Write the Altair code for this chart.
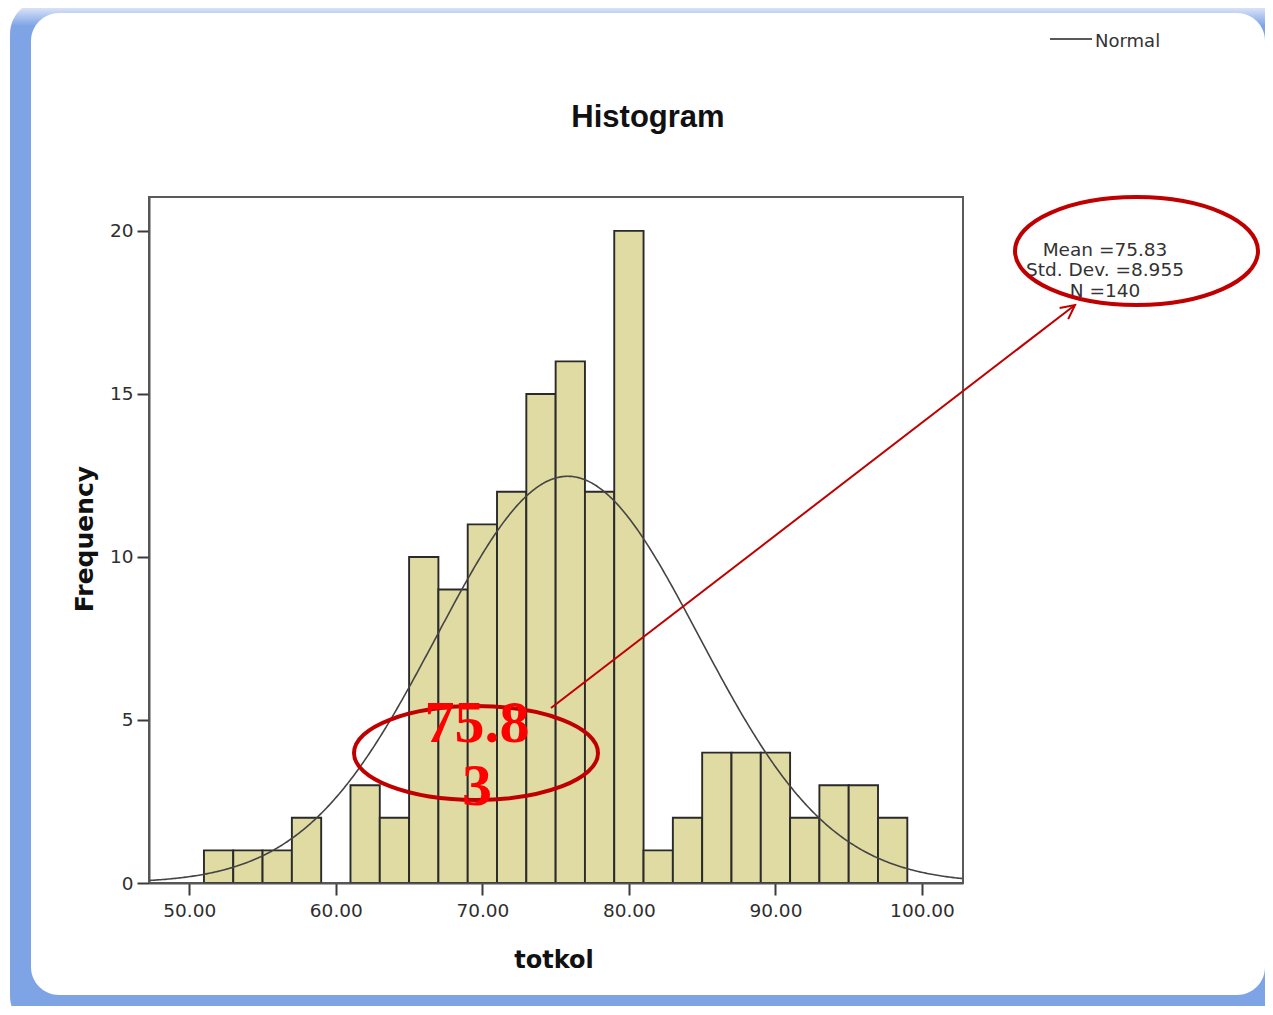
import altair as alt
import pandas as pd

# ---------------- data ----------------
bin_starts = [51, 53, 55, 57, 59, 61, 63, 65, 67, 69, 71, 73, 75, 77, 79, 81, 83, 85, 87, 89, 91, 93, 95, 97]
bin_width = 2
counts = [1, 1, 1, 2, 0, 3, 2, 10, 9, 11, 12, 15, 16, 12, 20, 1, 2, 4, 4, 4, 2, 3, 3, 2]
x_ticks = [50, 60, 70, 80, 90, 100]
y_ticks = [0, 5, 10, 15, 20]
mean_val = 75.83
sd_val = 8.955
n_val = 140
stats_text = "Mean =75.83\nStd. Dev. =8.955\nN =140"
callout_text = "75.8\n3"
title_text = "Histogram"
x_title = "totkol"
y_title = "Frequency"
legend_label = "Normal"

x_domain = [47.25, 102.8]
y_domain = [0, 21.04]

W, H = 814, 686

bars_df = pd.DataFrame({
    "start": bin_starts,
    "end": [s + bin_width for s in bin_starts],
    "count": counts,
})
bars_df = bars_df[bars_df["count"] > 0]

one = pd.DataFrame({"k": [0]})

xscale = alt.Scale(domain=x_domain, nice=False, zero=False)
yscale = alt.Scale(domain=y_domain, nice=False)

x_axis = alt.Axis(values=x_ticks, format=".2f", title=None, grid=False,
                  labelFont="DejaVu Sans", labelFontSize=18.5, labelColor="#2E2E2E",
                  tickSize=12, tickColor="#3A3A3A", tickWidth=2,
                  domainColor="#555555", domainWidth=2, labelPadding=6, zindex=1)
y_axis = alt.Axis(values=y_ticks, format="d", title=None, grid=False,
                  labelFont="DejaVu Sans", labelFontSize=18.5, labelColor="#2E2E2E",
                  tickSize=12, tickColor="#3A3A3A", tickWidth=2,
                  domainColor="#555555", domainWidth=2, labelPadding=4, zindex=1)

# ---------------- background frame ----------------
outer = alt.Chart(one).mark_rect(
    cornerRadius=34,
    fill=alt.Gradient(gradient="linear", x1=0, x2=0, y1=0, y2=1,
                      stops=[alt.GradientStop(color="#FFFFFF", offset=0),
                             alt.GradientStop(color="#C8D7F4", offset=0.011),
                             alt.GradientStop(color="#7FA4E6", offset=0.025),
                             alt.GradientStop(color="#7FA4E6", offset=1)]),
).encode(x=alt.value(-139), x2=alt.value(1141), y=alt.value(-197), y2=alt.value(833))

inner = alt.Chart(one).mark_rect(cornerRadius=28, fill="#FFFFFF").encode(
    x=alt.value(-118), x2=alt.value(1116), y=alt.value(-184), y2=alt.value(798))

plot_border = alt.Chart(one).mark_rect(fillOpacity=0, stroke="#5A5A5A", strokeWidth=2).encode(
    x=alt.value(0), x2=alt.value(W), y=alt.value(0), y2=alt.value(H))

# ---------------- histogram ----------------
bars = alt.Chart(bars_df).mark_rect(fill="#E0DBA3", stroke="#2A2A2A", strokeWidth=1.9).encode(
    x=alt.X("start:Q", scale=xscale, axis=x_axis),
    x2="end:Q",
    y=alt.Y("count:Q", scale=yscale, axis=y_axis),
    y2=alt.datum(0),
)

curve = alt.Chart(alt.sequence(x_domain[0], x_domain[1] + 0.05, 0.1, as_="v")).transform_calculate(
    dens=f"{n_val}*{bin_width}*exp(-0.5*pow((datum.v-{mean_val})/{sd_val},2))/({sd_val}*sqrt(2*PI))"
).mark_line(color="#444444", strokeWidth=1.6).encode(
    x=alt.X("v:Q", scale=xscale, axis=x_axis),
    y=alt.Y("dens:Q", scale=yscale, axis=y_axis),
)

# ---------------- texts ----------------
title = alt.Chart(one).mark_text(text=title_text, font="Liberation Sans", fontWeight="bold",
                                 fontSize=31, color="#111111", align="center", baseline="alphabetic").encode(
    x=alt.value(499), y=alt.value(-70))

xtitle = alt.Chart(one).mark_text(text=x_title, font="DejaVu Sans", fontWeight="bold",
                                  fontSize=24, color="#111111", align="center", baseline="alphabetic").encode(
    x=alt.value(405), y=alt.value(771))

ytitle = alt.Chart(one).mark_text(text=y_title, font="DejaVu Sans", fontWeight="bold", angle=270,
                                  fontSize=25, color="#111111", align="center", baseline="alphabetic").encode(
    x=alt.value(-56), y=alt.value(342))

legend_line = alt.Chart(one).mark_rule(color="#222222", strokeWidth=1.6).encode(
    x=alt.value(901), x2=alt.value(943), y=alt.value(-158))
legend_text = alt.Chart(one).mark_text(text=legend_label, font="DejaVu Sans", fontSize=18,
                                       color="#333333", align="left", baseline="alphabetic").encode(
    x=alt.value(946), y=alt.value(-150))

stats = alt.Chart(one).mark_text(text=stats_text, lineBreak="\n", lineHeight=20.5, font="DejaVu Sans",
                                 fontSize=18.5, color="#333333", align="center", baseline="alphabetic").encode(
    x=alt.value(956), y=alt.value(58.7))

callout = alt.Chart(one).mark_text(text=callout_text, lineBreak="\n", lineHeight=63, font="Liberation Serif",
                                   fontWeight="bold", fontSize=60, color="#FF0000", align="center",
                                   baseline="alphabetic").encode(
    x=alt.value(328), y=alt.value(545))

# ---------------- red annotations ----------------
ell_r = "M -1 0 A 1 0.444 0 1 1 1 0 A 1 0.444 0 1 1 -1 0 Z"
ell_l = "M -1 0 A 1 0.385 0 1 1 1 0 A 1 0.385 0 1 1 -1 0 Z"
ellipse_right = alt.Chart(one).mark_point(shape=ell_r, size=243 ** 2, filled=False, opacity=1,
                                          stroke="#C00000", strokeWidth=4).encode(
    x=alt.value(987.5), y=alt.value(54))
ellipse_left = alt.Chart(one).mark_point(shape=ell_l, size=244 ** 2, filled=False, opacity=1,
                                         stroke="#C00000", strokeWidth=4).encode(
    x=alt.value(327), y=alt.value(556))

arrow_line = alt.Chart(one).mark_rule(color="#C00000", strokeWidth=2).encode(
    x=alt.value(402), y=alt.value(511), x2=alt.value(926), y2=alt.value(108))
arrow_head = alt.Chart(one).mark_point(shape="M -0.5 1 L 0 0 L 0.5 1", size=28 ** 2, angle=52.4,
                                       filled=False, opacity=1, stroke="#C00000", strokeWidth=2).encode(
    x=alt.value(926), y=alt.value(108))

chart = alt.layer(
    outer, inner, plot_border, bars, curve,
    title, xtitle, ytitle, legend_line, legend_text, stats,
    ellipse_left, callout, arrow_line, arrow_head, ellipse_right,
).properties(
    width=W, height=H,
    autosize=alt.AutoSizeParams(type="none"),
    padding={"left": 141, "top": 189, "right": 302, "bottom": 123},
).configure_view(strokeWidth=0)

chart.save("out.html", embed_options={"renderer": "svg", "actions": False})
